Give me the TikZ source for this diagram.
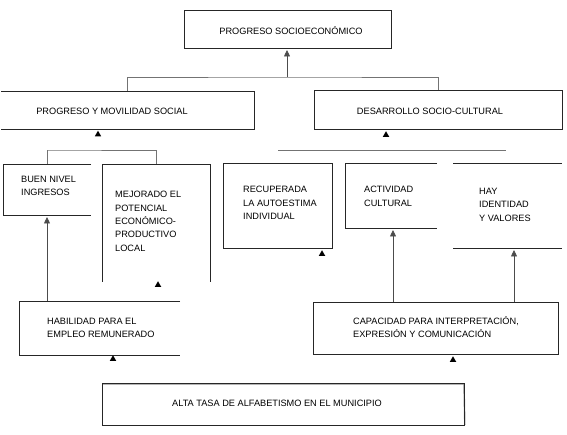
\documentclass[tikz,border=0pt]{standalone}
\usepackage{fontspec}
\setmainfont{Liberation Sans}
\usetikzlibrary{arrows.meta,shapes.geometric}
\tikzset{
  box/.style={draw=none,inner sep=0pt,outer sep=0pt,anchor=north west},
  edge/.style={draw=black!85,line width=0.6pt},
  conn/.style={draw=black!55,line width=0.9pt},
  stem/.style={draw=black!70,line width=0.7pt,-{Triangle[width=6pt,length=6.5pt]}},
  tri/.style={regular polygon,regular polygon sides=3,fill=black,inner sep=0pt,minimum size=7.5pt},
  lbl/.style={inner sep=0pt,font=\fontsize{9.2}{13.4}\selectfont,align=left},
}
\begin{document}
\begin{tikzpicture}[x=1pt,y=-1pt]
\useasboundingbox (0,0) rectangle (567,435);
% box frames (named, drawn edge by edge where open)
\node[box,minimum width=207pt,minimum height=38pt] (top) at (184,10) {};
\node[box,minimum width=253pt,minimum height=38pt] (pm) at (1,91) {};
\node[box,minimum width=248pt,minimum height=39pt] (ds) at (314,90) {};
\node[box,minimum width=88pt,minimum height=51pt] (buen) at (3,164) {};
\node[box,minimum width=108pt,minimum height=118pt] (mej) at (102,164) {};
\node[box,minimum width=109pt,minimum height=85pt] (rec) at (223,163) {};
\node[box,minimum width=92pt,minimum height=65pt] (act) at (345,163) {};
\node[box,minimum width=109pt,minimum height=85pt] (hay) at (453,163) {};
\node[box,minimum width=161pt,minimum height=54pt] (hab) at (19,301) {};
\node[box,minimum width=245pt,minimum height=52pt] (cap) at (313,302) {};
\node[box,minimum width=362pt,minimum height=42pt] (alta) at (102,383) {};

\draw[edge] (top.north west) rectangle (top.south east);
\draw[edge] (pm.north west) -- (pm.north east) -- (pm.south east) -- (pm.south west);
\draw[edge] (ds.north west) rectangle (ds.south east);
\draw[edge] (buen.north east) -- (buen.north west) -- (buen.south west) -- (buen.south east);
\draw[edge] (mej.south west) -- (mej.north west) -- (mej.north east) -- (mej.south east);
\draw[edge] (rec.north west) rectangle (rec.south east);
\draw[edge] (act.north east) -- (act.north west) -- (act.south west) -- (act.south east);
\draw[edge] (hay.north west) -- (hay.north east);
\draw[edge] (hay.south west) -- (hay.south east);
\draw[edge] (hab.north east) -- (hab.north west) -- (hab.south west) -- (hab.south east);
\draw[edge] (cap.north west) rectangle (cap.south east);
\draw[black!45,line width=1.4pt] ([yshift=-0.8pt]alta.north west) -- ([yshift=-0.8pt]alta.north east) -- ([xshift=0.8pt]alta.south east);
\draw[edge] (alta.north west) rectangle (alta.south east);

% texts
\node[lbl,anchor=center] (t1) at (291,31) {PROGRESO SOCIOECONÓMICO};
\node[lbl,anchor=center] (t2) at (112,111) {PROGRESO Y MOVILIDAD SOCIAL};
\node[lbl,anchor=center] (t3) at (430,111) {DESARROLLO SOCIO-CULTURAL};
\node[lbl,anchor=north west] (t4) at (21,176) {BUEN NIVEL\\INGRESOS};
\node[lbl,anchor=north west] (t5) at (115,191) {MEJORADO EL\\POTENCIAL\\ECONÓMICO-\\PRODUCTIVO\\LOCAL};
\node[lbl,anchor=north west] (t6) at (243,186) {RECUPERADA\\LA AUTOESTIMA\\INDIVIDUAL};
\node[lbl,anchor=north west] (t7) at (364,186) {ACTIVIDAD\\CULTURAL};
\node[lbl,anchor=north west] (t8) at (479,188) {HAY\\IDENTIDAD\\Y VALORES};
\node[lbl,anchor=north west] (t9) at (47,318) {HABILIDAD PARA EL\\EMPLEO REMUNERADO};
\node[lbl,anchor=north west] (t10) at (353,316) {CAPACIDAD PARA INTERPRETACIÓN,\\EXPRESIÓN Y COMUNICACIÓN};
\node[lbl,anchor=center] (t11) at (277,403) {ALTA TASA DE ALFABETISMO EN EL MUNICIPIO};

% connectors
\coordinate (j1) at (287,77);
\draw[conn] (pm.north) |- (j1) -| (ds.north);
\draw[stem,shorten >=2pt] (j1) -- (j1 |- top.south);
\coordinate (j2) at (48,150);
\draw[conn] (buen.north) |- (j2) -| (mej.north);
\coordinate (j3a) at (278,150);
\coordinate (j3b) at (506,150);
\draw[conn] (j3a) -- (j3b);
\draw[stem,shorten >=2pt] (buen.south |- hab.north) -- (buen.south);
\coordinate (ja) at (393,0);
\draw[stem,shorten >=2pt] (ja |- cap.north) -- (ja |- act.south);
\coordinate (jh) at (514,0);
\draw[stem,shorten >=2pt] (jh |- cap.north) -- (jh |- hay.south);

% free-standing arrowheads
\node[tri] (a1) at (98,134.5) {};
\node[tri] (a2) at (386,135) {};
\node[tri] (a3) at (158,285) {};
\node[tri] (a4) at (322,254) {};
\node[tri] (a5) at (113,359) {};
\node[tri] (a6) at (453,360) {};
\end{tikzpicture}
\end{document}
